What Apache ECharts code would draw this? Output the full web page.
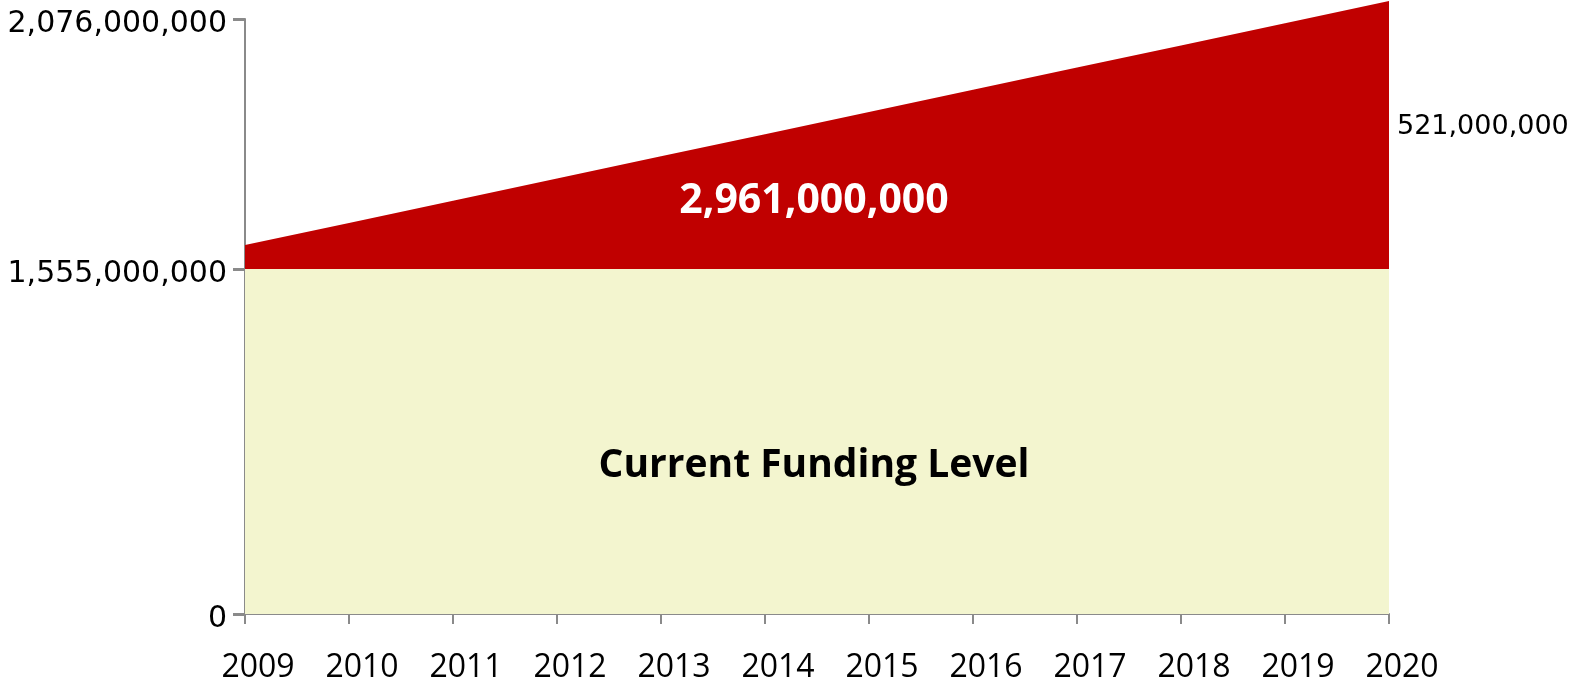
<!DOCTYPE html>
<html>
<head>
<meta charset="utf-8">
<script src="https://cdn.jsdelivr.net/npm/echarts@6/dist/echarts.min.js"></script>
<style>html,body{margin:0;padding:0;background:#fff;}#c{width:1583px;height:678px;}</style>
</head>
<body>
<div id="c"></div>
<script>
// Categories (years)
const years = ['2009','2010','2011','2012','2013','2014','2015','2016','2017','2018','2019','2020'];
// Current funding level (drawn height units, millions on the lower scale)
const currentFunding = [1555,1555,1555,1555,1555,1555,1555,1555,1555,1555,1555,1555];
// Additional funding needed (as drawn)
const additional = [108,208,308,408,508,608,708,808,908,1008,1108,1208];
// Y-axis tick positions (as drawn) and their labels
const yTickValues = [0, 1555, 2682];
const yTickLabels = ['0', '1,555,000,000', '2,076,000,000'];
// Annotation texts
const totalLabel = '2,961,000,000';
const currentLabel = 'Current Funding Level';
const finalGapLabel = '521,000,000';

const labelMap = {};
yTickValues.forEach((v, i) => { labelMap[v] = yTickLabels[i]; });

const chart = echarts.init(document.getElementById('c'), null, {renderer: 'canvas'});
const axisGrey = '#8a8a8a';
chart.setOption({
  animation: false,
  backgroundColor: '#ffffff',
  grid: {left: 245, right: 194, top: 19, bottom: 64, containLabel: false, outerBoundsMode: 'none'},
  xAxis: {
    type: 'category',
    data: years,
    boundaryGap: false,
    axisLine: {show: true, lineStyle: {color: axisGrey, width: 2}},
    axisTick: {show: true, length: 10, interval: 0, lineStyle: {color: axisGrey, width: 2}},
    axisLabel: {
      interval: 0, margin: 38, color: '#000', fontFamily: 'Open Sans', fontSize: 32,
      padding: [0, 0, 0, 26]
    },
    splitLine: {show: false}
  },
  yAxis: {
    type: 'value',
    min: 0,
    max: yTickValues[yTickValues.length - 1],
    axisLine: {show: true, lineStyle: {color: axisGrey, width: 2}},
    axisTick: {show: true, length: 12, customValues: yTickValues, lineStyle: {color: axisGrey, width: 3}},
    axisLabel: {
      customValues: yTickValues, margin: 18, color: '#000',
      formatter: v => labelMap[v] !== undefined ? '{t|' + labelMap[v] + '}' : '',
      rich: {
        t: {fontFamily: 'DejaVu Sans', fontSize: 30, color: '#000', padding: [10, 0, 0, 0]}
      }
    },
    splitLine: {show: false}
  },
  series: [
    {
      name: 'Current Funding Level',
      type: 'line',
      stack: 'total',
      data: currentFunding,
      symbol: 'none',
      lineStyle: {width: 0},
      areaStyle: {color: '#F3F5CF', opacity: 1},
      clip: false,
      z: 1
    },
    {
      name: 'Additional',
      type: 'line',
      stack: 'total',
      data: additional,
      symbol: 'none',
      lineStyle: {width: 0},
      areaStyle: {color: '#C00000', opacity: 1},
      clip: false,
      z: 2
    }
  ],
  graphic: [
    {type: 'text', x: 814, y: 201, z: 10,
      style: {text: totalLabel, fill: '#fff', font: 'bold 41px "Open Sans"', align: 'center', verticalAlign: 'middle'}},
    {type: 'text', x: 814, y: 466, z: 10,
      style: {text: currentLabel, fill: '#000', font: 'bold 39px "Open Sans"', align: 'center', verticalAlign: 'middle'}},
    {type: 'text', x: 1397, y: 127, z: 10,
      style: {text: finalGapLabel, fill: '#000', font: '27px "DejaVu Sans"', align: 'left', verticalAlign: 'middle'}}
  ]
});
</script>
</body>
</html>
